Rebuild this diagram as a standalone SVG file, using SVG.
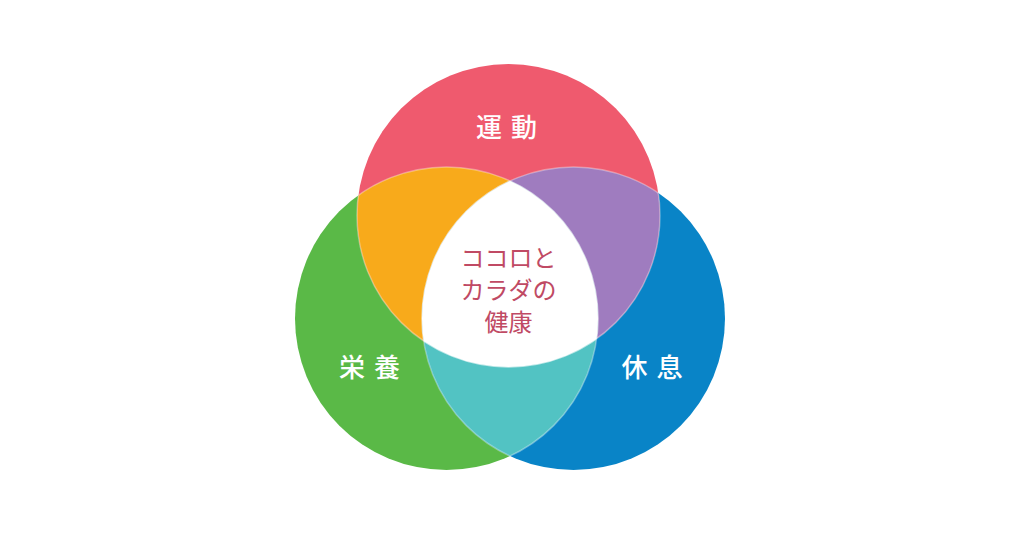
<svg xmlns="http://www.w3.org/2000/svg" width="1021" height="547" viewBox="0 0 1021 547">
  <style>
    .lbl { font-family: "Noto Sans CJK JP", "Noto Sans", sans-serif; font-size: 26px; fill: #ffffff; letter-spacing: 9px; text-anchor: middle; font-weight: 500; }
    .ctr { font-family: "Noto Sans CJK JP", "Noto Sans", sans-serif; font-size: 24px; fill: #c04a64; text-anchor: middle; }
    .edge { fill: none; stroke: #ffffff; stroke-opacity: 0.35; stroke-width: 1.5; }
  </style>
  <defs>
    <circle id="cTop" cx="508.5" cy="215.5" r="151.5"/>
    <circle id="cLeft" cx="446.5" cy="318.5" r="151.5"/>
    <circle id="cRight" cx="573.5" cy="318.5" r="151.5"/>
    <clipPath id="clipTop"><use href="#cTop"/></clipPath>
    <clipPath id="clipLeft"><use href="#cLeft"/></clipPath>
    <clipPath id="clipRight"><use href="#cRight"/></clipPath>
  </defs>
  <rect x="0" y="0" width="1021" height="547" fill="#ffffff"/>

  <g id="node-eiyou">
    <use href="#cLeft" fill="#5ab947"/>
  </g>
  <g id="node-kyusoku">
    <use href="#cRight" fill="#0984c7"/>
  </g>
  <g id="node-undou">
    <use href="#cTop" fill="#ef5a6e"/>
  </g>

  <g id="overlap-undou-eiyou">
    <g clip-path="url(#clipLeft)"><use href="#cTop" fill="#f8aa1b"/></g>
  </g>
  <g id="overlap-undou-kyusoku">
    <g clip-path="url(#clipRight)"><use href="#cTop" fill="#9f7cbf"/></g>
  </g>
  <g id="overlap-eiyou-kyusoku">
    <g clip-path="url(#clipRight)"><use href="#cLeft" fill="#52c3c3"/></g>
  </g>
  <g id="node-center">
    <g clip-path="url(#clipRight)"><g clip-path="url(#clipLeft)"><use href="#cTop" fill="#ffffff"/></g></g>
  </g>

  <g id="edges">
    <g clip-path="url(#clipTop)"><use href="#cLeft" class="edge"/><use href="#cRight" class="edge"/></g>
    <g clip-path="url(#clipLeft)"><use href="#cTop" class="edge"/><use href="#cRight" class="edge"/></g>
    <g clip-path="url(#clipRight)"><use href="#cTop" class="edge"/><use href="#cLeft" class="edge"/></g>
  </g>

  <g id="connectors"></g>

  <g id="labels">
    <text class="lbl" x="511" y="137">運動</text>
    <text class="lbl" x="374" y="377">栄養</text>
    <text class="lbl" x="656.5" y="377">休息</text>
    <text class="ctr" x="508.5" y="267">ココロと</text>
    <text class="ctr" x="508.5" y="299">カラダの</text>
    <text class="ctr" x="508.5" y="331">健康</text>
  </g>
</svg>
